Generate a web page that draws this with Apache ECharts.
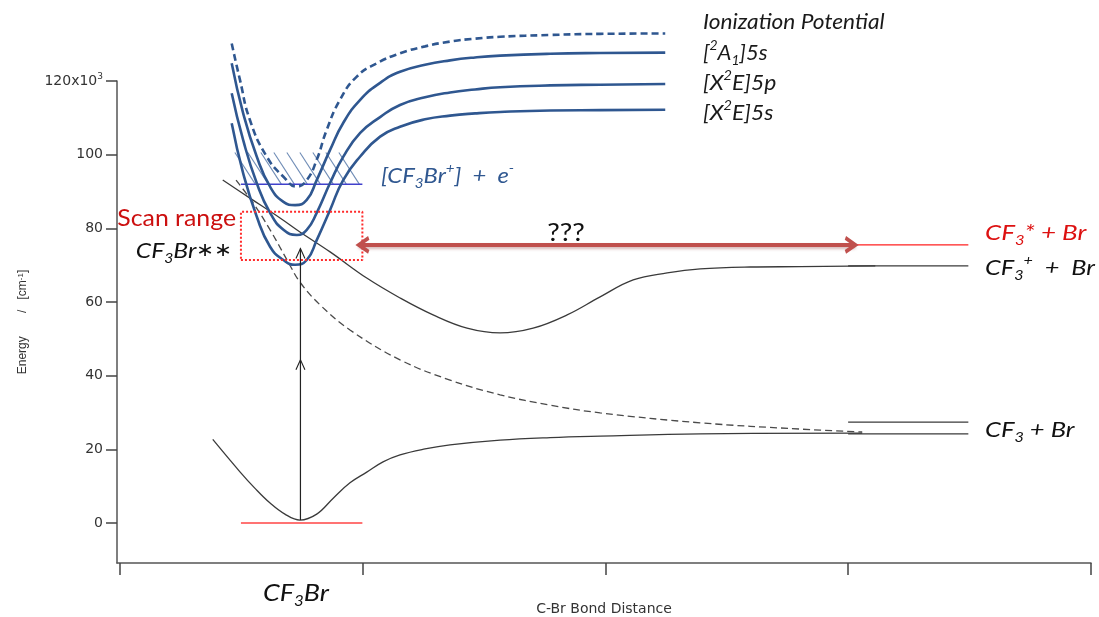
<!DOCTYPE html>
<html>
<head>
<meta charset="utf-8">
<title>CF3Br potential energy curves</title>
<script src="https://cdn.jsdelivr.net/npm/echarts@6/dist/echarts.min.js"></script>
<style>
  html, body { margin: 0; padding: 0; background: #ffffff; }
  #chart { width: 1099px; height: 617px; }
</style>
</head>
<body>
<div id="chart"></div>
<script>
// ---- Potential curves: [C-Br distance (arb.), energy (10^3 cm^-1)] ----
const groundState = [[0.384,22.7],[0.496,13.9],[0.558,9.4],[0.620,5.4],[0.681,2.4],[0.743,0.8],[0.812,2.4],[0.881,6.8],[0.949,10.9],[1.018,13.8],[1.085,16.6],[1.155,18.5],[1.258,20.1],[1.361,21.2],[1.567,22.5],[1.773,23.2],[1.979,23.6],[2.391,24.2],[3.058,24.4]];
const repulsiveState = [[0.48,93.1],[0.55,86.9],[0.62,79.6],[0.694,70.9],[0.743,65.4],[0.826,59.2],[0.949,52.4],[1.155,44.3],[1.361,38.8],[1.567,34.8],[1.773,32.0],[1.979,29.9],[2.391,27.2],[2.803,25.5],[3.058,24.7]];
const ionPairState = [[0.425,93.1],[0.537,88.2],[0.661,82.8],[0.743,79.0],[0.867,73.6],[1.018,66.5],[1.155,61.1],[1.291,56.5],[1.431,52.9],[1.567,51.6],[1.703,52.9],[1.843,56.5],[1.979,61.4],[2.115,66.0],[2.255,67.9],[2.391,69.0],[2.597,69.5],[2.803,69.6],[3.112,69.8]];
const ionizationCurve = [[0.462,130.2],[0.496,120.3],[0.537,109.4],[0.606,99.5],[0.675,94.0],[0.73,91.3],[0.771,93.1],[0.812,98.6],[0.853,106.7],[0.908,114.9],[0.977,121.2],[1.059,124.8],[1.155,127.5],[1.258,129.4],[1.361,130.7],[1.464,131.5],[1.567,132.0],[1.773,132.5],[1.979,132.8],[2.247,132.9]];
const rydbergA1_5s = [[0.462,124.8],[0.509,111.3],[0.565,99.5],[0.62,91.3],[0.675,87.2],[0.723,86.3],[0.771,87.7],[0.812,93.1],[0.867,101.3],[0.921,108.6],[0.991,114.9],[1.073,119.5],[1.155,122.5],[1.258,124.4],[1.361,125.6],[1.464,126.4],[1.567,126.9],[1.773,127.4],[1.979,127.6],[2.247,127.7]];
const rydbergX_5p = [[0.462,116.7],[0.509,104.0],[0.565,92.3],[0.62,84.2],[0.675,79.6],[0.73,78.2],[0.771,79.6],[0.812,84.2],[0.867,92.3],[0.921,99.4],[0.991,105.9],[1.073,110.2],[1.155,113.5],[1.258,115.6],[1.361,116.9],[1.464,117.7],[1.567,118.3],[1.773,118.8],[1.979,119.0],[2.247,119.2]];
const rydbergX_5s = [[0.462,108.5],[0.509,95.0],[0.565,83.2],[0.62,75.0],[0.675,71.4],[0.723,70.1],[0.771,71.4],[0.812,76.8],[0.867,85.0],[0.921,93.1],[0.991,99.5],[1.073,104.9],[1.155,107.6],[1.258,109.6],[1.361,110.6],[1.464,111.2],[1.567,111.6],[1.773,112.0],[1.979,112.1],[2.247,112.2]];

// ---- Levels and markers ----
const groundLevel = [[0.5,0],[1.0,0]];
const ionThreshold = [[0.5,92],[1.0,92]];
const continuumBand = [0.475, 1.0, 92, 100.6];          // x from, x to, energy low, energy high
const scanRange = [[0.5,71.4],[1.0,71.4],[1.0,84.5],[0.5,84.5],[0.5,71.4]];
const excitation = [[0.745,0.8],[0.745,44.3],[0.745,74.5]];
const dissociationArrow = [[0.985,75.5],[3.03,75.5]];
const levelCF3Excited = [[3.0,75.5],[3.495,75.5]];
const levelCF3Ion = [[3.0,69.8],[3.495,69.8]];
const levelCF3Upper = [[3.0,27.4],[3.495,27.4]];
const levelCF3 = [[3.0,24.2],[3.495,24.2]];

// ---- Axis ticks ----
const energyTicks = [0, 20, 40, 60, 80, 100, 120];
const distanceTicks = [0, 1, 2, 3, 4];

const BLUE = '#2f5790';
const chevronUp = 'path://M0,10 L5,0 L10,10';

function richSet(size, color, italic) {
  const base = { fontFamily: 'Lato', fontStyle: italic ? 'italic' : 'normal', fill: color };
  return {
    t: Object.assign({}, base, { fontSize: size, lineHeight: Math.round(size * 1.3) }),
    s: Object.assign({}, base, { fontSize: Math.round(size * 0.64), verticalAlign: 'bottom', lineHeight: Math.round(size * 0.62) }),
    p: Object.assign({}, base, { fontSize: Math.round(size * 0.64), verticalAlign: 'top', lineHeight: Math.round(size * 0.8) }),
    a: { fontFamily: 'DejaVu Sans', fontStyle: 'italic', fontSize: Math.round(size * 0.85), fill: color, lineHeight: Math.round(size * 1.3) }
  };
}

function textEl(x, y, text, size, color, italic, align, sx) {
  return {
    type: 'text', x: x, y: y, silent: true, scaleX: sx || 1,
    style: {
      text: text, rich: richSet(size, color, italic),
      fill: color, font: (italic ? 'italic ' : '') + size + 'px Lato',
      align: align || 'left', verticalAlign: 'middle',
      textAlign: align || 'left', textVerticalAlign: 'middle'
    }
  };
}

function curve(data, color, width, dashed, smooth) {
  return {
    type: 'line', data: data, smooth: smooth || 0.4, symbol: 'none', clip: false, silent: true,
    lineStyle: { color: color, width: width, type: dashed ? [7, 4] : 'solid' }
  };
}

function level(data, color, width) {
  return {
    type: 'line', data: data, symbol: 'none', clip: false, silent: true,
    lineStyle: { color: color, width: width }
  };
}

const chart = echarts.init(document.getElementById('chart'), null, { renderer: 'canvas' });

const option = {
  animation: false,
  backgroundColor: '#ffffff',
  grid: { left: 117, right: 8, top: 81, bottom: 54, outerBoundsMode: 'none' },
  xAxis: {
    type: 'value', min: -0.0103, max: 4,
    name: 'C-Br Bond Distance', nameLocation: 'middle', nameGap: 39,
    nameTextStyle: { fontFamily: 'DejaVu Sans', fontSize: 14, color: '#333' },
    axisLine: { onZero: false, lineStyle: { color: '#555', width: 1.5 } },
    axisTick: { length: 12, customValues: distanceTicks, lineStyle: { color: '#444', width: 1.5 } },
    axisLabel: { show: false },
    splitLine: { show: false }
  },
  yAxis: {
    type: 'value', min: -10.86, max: 120,
    name: '{n|Energy       /   [cm}{e|-1}{n|]}', nameLocation: 'middle', nameGap: 88,
    nameTextStyle: {
      rich: {
        n: { fontFamily: 'Liberation Sans', fontSize: 12, color: '#333' },
        e: { fontFamily: 'Liberation Sans', fontSize: 8, color: '#333', verticalAlign: 'top', lineHeight: 8 }
      }
    },
    axisLine: { onZero: false, lineStyle: { color: '#555', width: 1.5 } },
    axisTick: { length: 11, customValues: energyTicks, lineStyle: { color: '#444', width: 1.5 } },
    axisLabel: {
      customValues: energyTicks, margin: 14,
      formatter: function (v) { return v === 120 ? '{a|120x10}{e|3}' : '{a|' + v + '}'; },
      rich: {
        a: { fontFamily: 'DejaVu Sans', fontSize: 14, color: '#333', lineHeight: 17 },
        e: { fontFamily: 'DejaVu Sans', fontSize: 9, color: '#333', verticalAlign: 'top', lineHeight: 9 }
      }
    },
    splitLine: { show: false }
  },
  series: [
    {
      // hatched continuum above the ionization threshold
      type: 'custom', silent: true, clip: false, coordinateSystem: 'cartesian2d',
      data: [continuumBand],
      renderItem: function (params, api) {
        const tl = api.coord([api.value(0), api.value(3)]);
        const br = api.coord([api.value(1), api.value(2)]);
        const h = br[1] - tl[1];
        const run = h / 1.55;
        const children = [];
        for (let x = tl[0]; x + run <= br[0] + 1; x += 13) {
          children.push({
            type: 'line',
            shape: { x1: x, y1: tl[1], x2: x + run, y2: br[1] },
            style: { stroke: '#6f8cb6', lineWidth: 1.1 }
          });
        }
        return { type: 'group', children: children };
      }
    },
    level(ionThreshold, '#4141cc', 1.5),
    level(groundLevel, '#ff4545', 1.6),
    curve(groundState, '#3a3a3a', 1.3, false),
    curve(repulsiveState, '#4a4a4a', 1.3, true),
    curve(ionPairState, '#3a3a3a', 1.3, false),
    curve(ionizationCurve, BLUE, 2.6, true, 0.5),
    curve(rydbergA1_5s, BLUE, 2.6, false, 0.5),
    curve(rydbergX_5p, BLUE, 2.6, false, 0.5),
    curve(rydbergX_5s, BLUE, 2.6, false, 0.5),
    {
      type: 'line', data: scanRange, symbol: 'none', clip: false, silent: true,
      lineStyle: { color: '#ff2a2a', width: 2, type: [2, 2] }
    },
    {
      // photo-excitation arrow from the ground-state minimum
      type: 'line', clip: false, silent: true,
      data: excitation.map(function (p, i) {
        return i === 0 ? { value: p, symbol: 'none' }
          : { value: p, symbol: chevronUp, symbolSize: [9, 10], symbolOffset: [0, 5] };
      }),
      lineStyle: { color: '#222', width: 1.2 },
      itemStyle: { color: 'none', borderColor: '#222', borderWidth: 1.2 }
    },
    level(levelCF3Excited, '#ff2020', 1.3),
    level(levelCF3Ion, '#3a3a3a', 1.3),
    level(levelCF3Upper, '#3a3a3a', 1.3),
    level(levelCF3, '#3a3a3a', 1.3),
    {
      // dissociation channel arrow
      type: 'line', clip: false, silent: true,
      data: [
        { value: dissociationArrow[0], symbol: chevronUp, symbolSize: [14, 10], symbolRotate: 90, symbolOffset: [5, 0] },
        { value: dissociationArrow[1], symbol: chevronUp, symbolSize: [14, 10], symbolRotate: -90, symbolOffset: [-5, 0] }
      ],
      lineStyle: { color: '#c0504d', width: 4, shadowColor: 'rgba(140,50,50,0.35)', shadowBlur: 3, shadowOffsetY: 2 },
      itemStyle: { color: 'none', borderColor: '#c0504d', borderWidth: 3.5 }
    }
  ],
  graphic: [
    textEl(703, 22, '{t|Ionization Potential}', 22, '#1a1a1a', true, 'left', 1.03),
    textEl(703, 53, '{t|[}{p|2}{t|A}{s|1}{t|]5s}', 22, '#1a1a1a', true, 'left', 1.0),
    textEl(703, 83, '{t|[X}{p|2}{t|E]5p}', 22, '#1a1a1a', true, 'left', 1.04),
    textEl(703, 113, '{t|[X}{p|2}{t|E]5s}', 22, '#1a1a1a', true, 'left', 1.04),
    textEl(381, 176, '{t|[CF}{s|3}{t|Br}{p|+}{t|]  +  e}{p|-}', 22, BLUE, true, 'left', 1.08),
    textEl(236, 219, '{t|Scan range}', 23, '#cc1010', false, 'right', 1.08),
    textEl(232, 251, '{t|CF}{s|3}{t|Br}{a|∗∗}', 22, '#111', true, 'right', 1.12),
    textEl(566, 233, '{t|???}', 25, '#111', false, 'center', 1.12),
    textEl(985, 233, '{t|CF}{s|3}{t|* + Br}', 22, '#dd1111', true, 'left', 1.18),
    textEl(985, 268, '{t|CF}{s|3}{p|+}{t|  +  Br}', 22, '#111', true, 'left', 1.15),
    textEl(985, 430, '{t|CF}{s|3}{t| + Br}', 22, '#111', true, 'left', 1.16),
    textEl(296, 593, '{t|CF}{s|3}{t|Br}', 24, '#111', true, 'center', 1.12)
  ]
};

chart.setOption(option);
</script>
</body>
</html>
